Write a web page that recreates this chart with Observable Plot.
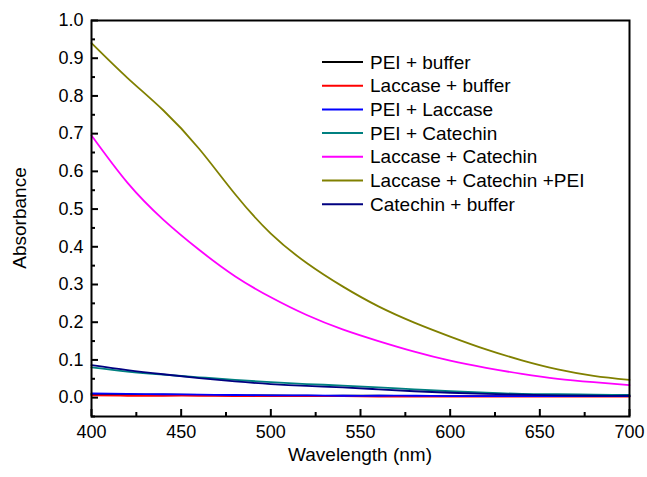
<!DOCTYPE html>
<html><head><meta charset="utf-8">
<script src="https://cdn.jsdelivr.net/npm/d3@7"></script>
<script src="https://cdn.jsdelivr.net/npm/@observablehq/plot@0.6"></script>
<style>
html,body{margin:0;padding:0;background:#fff;}
#chart{position:relative;width:647px;height:477px;}
svg{font-family:"Liberation Sans",Arial,sans-serif;}
</style></head>
<body><div id="chart"></div>
<script>
const wavelengths = [400,420,440,460,480,500,520,540,560,580,600,620,640,660,680,700];
const seriesNames = ["PEI + buffer","Laccase + buffer","PEI + Laccase","PEI + Catechin","Laccase + Catechin","Laccase + Catechin +PEI","Catechin + buffer"];
const seriesColors = ["#000000","#ff0000","#0000ff","#008080","#ff00ff","#808000","#000080"];
const peiBuffer      = [0.009,0.008,0.008,0.007,0.006,0.006,0.005,0.005,0.005,0.004,0.004,0.004,0.004,0.004,0.004,0.004];
const laccaseBuffer  = [0.006,0.005,0.005,0.005,0.004,0.004,0.004,0.004,0.003,0.003,0.003,0.003,0.003,0.003,0.003,0.003];
const peiLaccase     = [0.011,0.010,0.009,0.008,0.007,0.006,0.006,0.005,0.005,0.005,0.004,0.004,0.004,0.004,0.004,0.004];
const peiCatechin    = [0.080,0.069,0.061,0.054,0.047,0.041,0.036,0.032,0.027,0.022,0.017,0.013,0.010,0.009,0.008,0.007];
const laccaseCatechin= [0.695,0.570,0.472,0.392,0.322,0.266,0.219,0.181,0.150,0.122,0.098,0.079,0.063,0.050,0.041,0.033];
const laccaseCatPEI  = [0.940,0.848,0.762,0.660,0.540,0.435,0.357,0.295,0.242,0.199,0.162,0.128,0.099,0.075,0.058,0.047];
const catechinBuffer = [0.086,0.073,0.062,0.052,0.043,0.036,0.031,0.027,0.022,0.017,0.013,0.010,0.008,0.006,0.005,0.005];
const xTicks = [400,450,500,550,600,650,700];
const xMinor = [425,475,525,575,625,675];
const yTicks = [0,0.1,0.2,0.3,0.4,0.5,0.6,0.7,0.8,0.9,1.0];
const yMinor = [-0.05,0.05,0.15,0.25,0.35,0.45,0.55,0.65,0.75,0.85,0.95];

const allSeries = [peiBuffer,laccaseBuffer,peiLaccase,peiCatechin,laccaseCatechin,laccaseCatPEI,catechinBuffer];
const data = [];
allSeries.forEach((vals,i)=>vals.forEach((v,j)=>data.push({series:seriesNames[i],w:wavelengths[j],a:v})));

const plot = Plot.plot({
  width:647, height:477,
  marginLeft:91, marginRight:18, marginTop:20, marginBottom:61,
  style:{fontFamily:'"Liberation Sans",Arial,sans-serif', fontSize:"18px", color:"#000", background:"#fff"},
  x:{domain:[400,700]},
  y:{domain:[-0.05,1.0]},
  color:{domain:seriesNames, range:seriesColors},
  marks:[
    Plot.line(data,{x:"w",y:"a",z:"series",stroke:"series",strokeWidth:1.8,curve:"natural"}),
    Plot.frame({stroke:"#000",strokeWidth:2}),
    Plot.axisX({ticks:xTicks, tickSize:-7, tickFormat:()=>"", strokeWidth:2, label:null}),
    Plot.axisX({ticks:xMinor, tickSize:-4, tickFormat:()=>"", strokeWidth:2, label:null}),
    Plot.axisX({ticks:xTicks, tickSize:0, tickPadding:9, tickFormat:d=>String(d), fontSize:18, label:null}),
    Plot.axisY({ticks:yTicks, tickSize:-7, tickFormat:()=>"", strokeWidth:2, label:null}),
    Plot.axisY({ticks:yMinor, tickSize:-4, tickFormat:()=>"", strokeWidth:2, label:null}),
    Plot.axisY({ticks:yTicks, tickSize:0, tickPadding:8, tickFormat:d=>d.toFixed(1), fontSize:18, label:null})
  ]
});
document.getElementById("chart").appendChild(plot);

const svg = d3.select(plot);
// axis titles
svg.append("text").attr("x",360).attr("y",461).attr("text-anchor","middle")
  .attr("font-size","19px").attr("fill","#000").text("Wavelength (nm)");
svg.append("text").attr("transform","translate(26,218) rotate(-90)").attr("text-anchor","middle")
  .attr("font-size","19px").attr("fill","#000").text("Absorbance");
// legend
const lg = svg.append("g").attr("font-size","19px").attr("text-anchor","start");
seriesNames.forEach((name,i)=>{
  const yy = 62 + i*23.7;
  lg.append("line").attr("x1",322).attr("x2",363).attr("y1",yy).attr("y2",yy).attr("stroke",seriesColors[i]).attr("stroke-width",2);
  lg.append("text").attr("x",370).attr("y",yy).attr("dy","0.35em").attr("fill","#000").text(name);
});
</script></body></html>
